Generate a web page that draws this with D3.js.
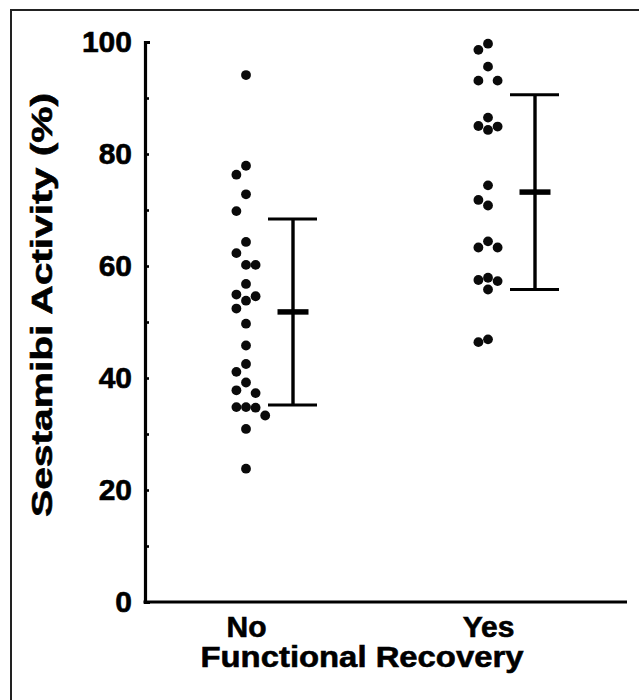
<!DOCTYPE html>
<html>
<head>
<meta charset="utf-8">
<script src="https://cdn.jsdelivr.net/npm/d3@7"></script>
<style>
  html, body { margin: 0; padding: 0; background: #fff; }
  svg { display: block; }
  text {
    font-family: "Liberation Sans", Arial, Helvetica, sans-serif;
    font-weight: bold;
    fill: #000;
    stroke: #000;
    stroke-width: 0.6px;
  }
</style>
</head>
<body>
<div id="chart"></div>
<script>
// Values
const categories = ['No', 'Yes'];

const noValues = [94.1, 77.9, 76.3, 72.8, 69.8, 64.3, 62.3, 60.2, 60.2, 56.8, 54.9,
    54.6, 53.8, 52.4, 49.7, 45.8, 42.5, 41.1, 39.2, 37.8, 37.3, 34.8, 34.7, 34.8,
    33.3, 30.9, 23.8];
const yesValues = [99.7, 98.6, 95.6, 93.1, 93.1, 86.5, 85.0, 84.9, 84.3, 74.4, 71.8,
    70.8, 64.4, 63.3, 63.3, 57.9, 57.5, 57.3, 55.8, 46.9, 46.4];

const groupMeans = [51.8, 73.2];
const groupSD = [16.6, 17.4];

const yTicks = [0, 10, 20, 30, 40, 50, 60, 70, 80, 90, 100];
const yLabelEvery = 20;

const width = 639;
const height = 700;
const plot = { left: 145, right: 627, top: 42, bottom: 602 };
const dotR = 4.9;
const slotGap = 9.6;

const svg = d3.select('#chart')
    .append('svg')
    .attr('width', width)
    .attr('height', height);

// frame of the scanned figure (only top and left edges are in view)
svg.append('path')
    .attr('d', `M11,${height}V10H${width}`)
    .attr('fill', 'none')
    .attr('stroke', '#222')
    .attr('stroke-width', 2);

const y = d3.scaleLinear().domain([0, 100]).range([plot.bottom, plot.top]);
const x = d3.scalePoint()
    .domain(categories)
    .range([plot.left + 101, plot.left + 343]);

// y axis, ticks pointing into the plot
const yAxis = svg.append('g')
    .attr('transform', `translate(${plot.left},0)`)
    .call(d3.axisLeft(y)
        .tickValues(yTicks)
        .tickSizeInner(-4)
        .tickSizeOuter(-5)
        .tickPadding(13)
        .tickFormat(d => d % yLabelEvery === 0 ? d : ''));

yAxis.select('.domain').attr('stroke', '#000').attr('stroke-width', 3.2);
yAxis.selectAll('.tick line').attr('stroke', '#000').attr('stroke-width', 2.6);
yAxis.selectAll('.tick text')
    .style('font-size', '30px')
    .attr('fill', '#000');

// x axis baseline
svg.append('line')
    .attr('x1', plot.left - 1.5)
    .attr('x2', plot.right)
    .attr('y1', plot.bottom)
    .attr('y2', plot.bottom)
    .attr('stroke', '#000')
    .attr('stroke-width', 3.2);

// category labels
const xAxis = svg.append('g')
    .attr('transform', `translate(0,${plot.bottom})`)
    .call(d3.axisBottom(x).tickSize(0).tickPadding(0));
xAxis.select('.domain').remove();
xAxis.selectAll('.tick text')
    .attr('dy', null)
    .attr('y', 35)
    .style('font-size', '30px');

// axis titles
svg.append('text')
    .attr('x', 362)
    .attr('y', 667)
    .attr('text-anchor', 'middle')
    .attr('textLength', 323)
    .attr('lengthAdjust', 'spacingAndGlyphs')
    .style('font-size', '30px')
    .text('Functional Recovery');

svg.append('text')
    .attr('transform', `translate(52,${(93 + 517) / 2}) rotate(-90)`)
    .attr('text-anchor', 'middle')
    .attr('textLength', 424)
    .attr('lengthAdjust', 'spacingAndGlyphs')
    .style('font-size', '30px')
    .text('Sestamibi Activity (%)');

// spread dots that sit close together into side-by-side slots
function dodge(values) {
    const placed = [];
    const free = (s, py, gap) => !placed.some(p => p.slot === s && Math.abs(p.py - py) < gap);
    values.slice().sort((a, b) => b - a).forEach(v => {
        const py = y(v);
        let slot = [0, -1, 1].find(s => free(s, py, dotR * 2 + 8));
        if (slot === undefined) slot = [0, -1, 1, 2, -2].find(s => free(s, py, dotR * 2));
        placed.push({ value: v, py, slot });
    });
    return placed;
}

const groups = [noValues, yesValues];

groups.forEach((vals, i) => {
    const cx = x(categories[i]);
    svg.append('g')
        .selectAll('circle')
        .data(dodge(vals))
        .join('circle')
        .attr('cx', d => cx + d.slot * slotGap)
        .attr('cy', d => d.py)
        .attr('r', dotR)
        .attr('fill', '#0a0a0a');
});

// mean +/- SD bars
const bars = svg.append('g')
    .selectAll('g')
    .data(categories.map((c, i) => ({ c, mean: groupMeans[i], sd: groupSD[i] })))
    .join('g')
    .attr('transform', d => `translate(${x(d.c) + 47},0)`)
    .attr('stroke', '#000');

bars.append('line')
    .attr('y1', d => y(d.mean + d.sd))
    .attr('y2', d => y(d.mean - d.sd))
    .attr('stroke-width', 3.4);

bars.selectAll('line.cap')
    .data(d => [d.mean + d.sd, d.mean - d.sd])
    .join('line')
    .attr('class', 'cap')
    .attr('x1', -25)
    .attr('x2', 24)
    .attr('y1', v => y(v))
    .attr('y2', v => y(v))
    .attr('stroke-width', 3);

bars.append('line')
    .attr('x1', -15.5)
    .attr('x2', 15.5)
    .attr('y1', d => y(d.mean))
    .attr('y2', d => y(d.mean))
    .attr('stroke-width', 5.5);
</script>
</body>
</html>
